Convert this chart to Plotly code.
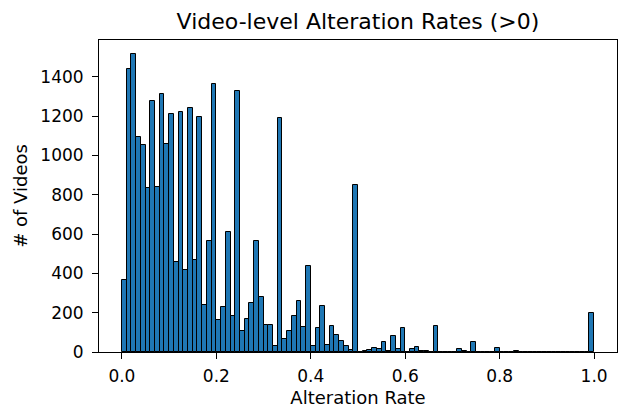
import numpy as np
import plotly.graph_objects as go

# histogram counts for 100 bins over [0, 1]
counts = [
    368, 1438, 1515, 1095, 1051, 835, 1275, 840, 1310, 1057,
    1213, 458, 1220, 419, 1240, 467, 1196, 239, 567, 1364,
    165, 229, 611, 185, 1326, 107, 168, 248, 564, 280,
    138, 135, 32, 1192, 66, 107, 182, 260, 127, 440,
    29, 122, 234, 37, 131, 89, 56, 31, 9, 852,
    0, 5, 10, 22, 17, 51, 5, 82, 17, 124,
    0, 17, 25, 5, 3, 0, 133, 0, 0, 0,
    0, 15, 3, 0, 49, 0, 0, 0, 0, 20,
    0, 0, 0, 5, 0, 0, 0, 0, 0, 0,
    0, 0, 0, 0, 0, 0, 0, 0, 0, 196,
]
bin_lo, bin_hi = 0.0, 1.0
x_ticks = [0.0, 0.2, 0.4, 0.6, 0.8, 1.0]
y_ticks = [0, 200, 400, 600, 800, 1000, 1200, 1400]

n = len(counts)
edges = np.linspace(bin_lo, bin_hi, n + 1)
centers = (edges[:-1] + edges[1:]) / 2
widths = np.diff(edges)

fig = go.Figure(go.Bar(
    x=centers, y=counts, width=widths,
    marker=dict(color="#1f77b4", line=dict(color="black", width=1)),
))

font = "DejaVu Sans"
fig.update_layout(
    width=618, height=408,
    margin=dict(l=99, r=1, t=40, b=56),
    paper_bgcolor="white", plot_bgcolor="white",
    showlegend=False, bargap=0,
    font=dict(family=font, size=17, color="black"),
    title=dict(text="Video-level Alteration Rates (>0)", x=(99 + 617) / 2 / 618, xanchor="center",
               y=1 - 21 / 408, yanchor="middle", font=dict(size=22, family=font)),
)
fig.update_xaxes(
    range=[-0.0485, 1.0485], tickvals=x_ticks, ticktext=[f"{v:.1f}" for v in x_ticks],
    ticks="outside", ticklen=6, tickwidth=1, tickcolor="black", ticklabelstandoff=3,
    showline=True, linecolor="black", linewidth=1, mirror=True, showgrid=False, zeroline=False,
    title=dict(text="Alteration Rate", font=dict(size=18), standoff=6),
    tickfont=dict(size=17),
)
fig.update_yaxes(
    range=[0, 1587], tickvals=y_ticks,
    ticks="outside", ticklen=6, tickwidth=1, tickcolor="black", ticklabelstandoff=5,
    showline=True, linecolor="black", linewidth=1, mirror=True, showgrid=False, zeroline=False,
    title=dict(text="# of Videos", font=dict(size=18), standoff=8),
    tickfont=dict(size=17),
)
fig.write_html("out.html")
